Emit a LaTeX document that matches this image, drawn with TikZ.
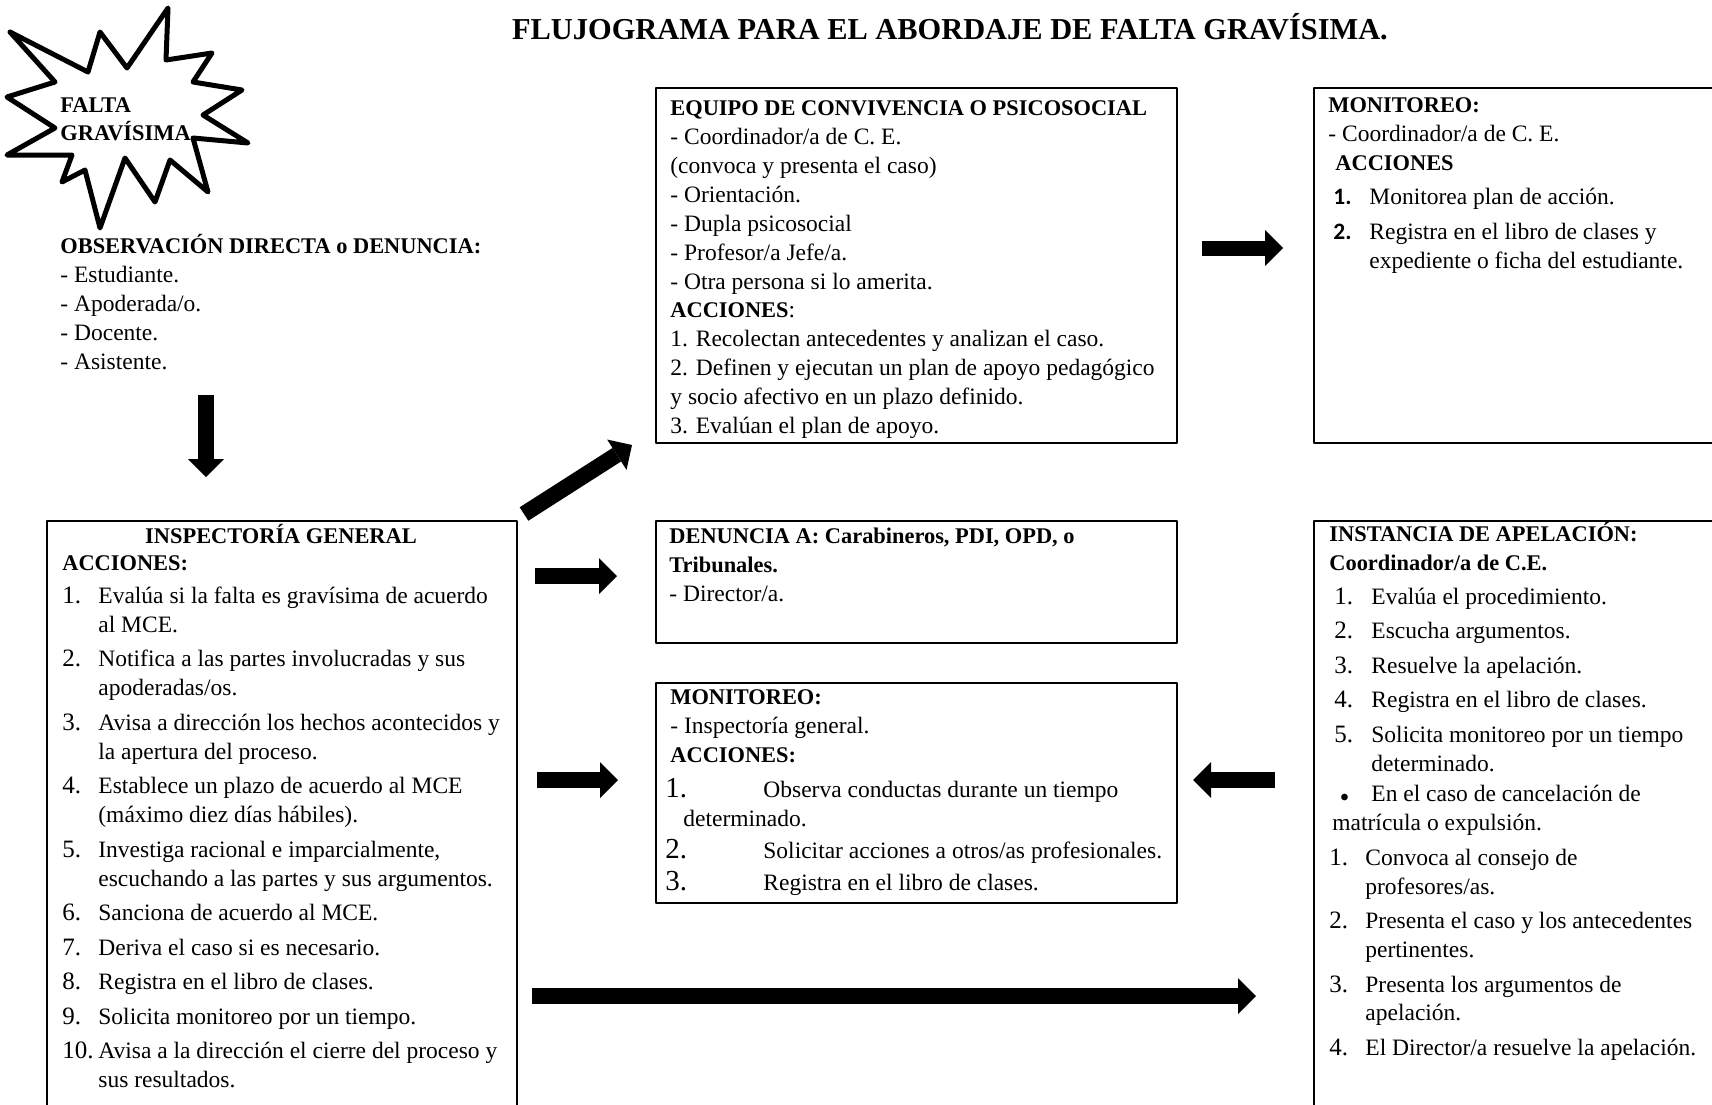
\documentclass[tikz,border=0pt]{standalone}
\usepackage{fontspec}
\setmainfont{Liberation Serif}
\newfontfamily\calib{Carlito}
\usetikzlibrary{positioning}
\usetikzlibrary{arrows.meta}
\newcommand{\numit}[2][18pt]{\makebox[#1][l]{\fontsize{12.5}{14.45}\selectfont #2}}
\newcommand{\enc}[1]{{\fontsize{11.2}{14.45}\selectfont\bfseries #1}}

\begin{document}
\begin{tikzpicture}[x=0.5pt, y=-0.5pt, line join=round,
  caja/.style={draw, line width=1pt, inner sep=0pt, anchor=north west},
  txt/.style={anchor=north west, align=left, inner sep=0pt, font=\fontsize{11.75}{14.45}\selectfont},
  ar/.style={line width=8pt, -{Triangle[length=9pt, width=18pt, line width=0pt]}}]
  \useasboundingbox (0,0) rectangle (1712,1104);
  \clip (0,0) rectangle (1712,1104);

  \node[font=\fontsize{15.2}{17}\selectfont\bfseries, anchor=base] (tit) at (950,39) {FLUJOGRAMA PARA EL ABORDAJE DE FALTA GRAVÍSIMA.};

  % estrella
  \draw[line width=2.5pt] (10,32) -- (88,72) -- (100,32) -- (127,68) -- (168,8) -- (166,60) -- (212,53) -- (193,82) -- (242,90) -- (203,115) -- (248,143) -- (193,138) -- (208,192) -- (170,160) -- (155,202) -- (125,158) -- (100,228) -- (85,170) -- (62,182) -- (72,155) -- (7,155) -- (55,128) -- (7,97) -- (55,82) -- cycle;
  \node[txt, font=\fontsize{11.2}{14}\selectfont\bfseries] (fg) at (60,92) {\strut FALTA\\GRAVÍSIMA};

  \node[txt] (ob) at (60,233) {\strut\enc{OBSERVACIÓN DIRECTA o DENUNCIA:}\\- Estudiante.\\- Apoderada/o.\\- Docente.\\- Asistente.};

  % cajas
  \node[caja, minimum width=235pt, minimum height=300pt] (ig) at (46,520) {};
  \node[caja, minimum width=260.5pt, minimum height=177.5pt] (eq) at (655,87) {};
  \node[caja, minimum width=208.5pt, minimum height=177.5pt] (mt) at (1313,87) {};
  \node[caja, minimum width=260.5pt, minimum height=61pt] (de) at (655,520) {};
  \node[caja, minimum width=260.5pt, minimum height=110pt] (mm) at (655,682) {};
  \node[caja, minimum width=208.5pt, minimum height=300pt] (ia) at (1313,520) {};

  \node[anchor=base] (igt) at (281,543) {\enc{INSPECTORÍA GENERAL}};
  \node[txt] (igl) at (62,550) {\strut\enc{ACCIONES:}\\[2pt]
    \numit{1.}Evalúa si la falta es gravísima de acuerdo\\
    \hspace*{18pt}al MCE.\\[2.8pt]
    \numit{2.}Notifica a las partes involucradas y sus\\
    \hspace*{18pt}apoderadas/os.\\[2.8pt]
    \numit{3.}Avisa a dirección los hechos acontecidos y\\
    \hspace*{18pt}la apertura del proceso.\\[2.8pt]
    \numit{4.}Establece un plazo de acuerdo al MCE\\
    \hspace*{18pt}(máximo diez días hábiles).\\[2.8pt]
    \numit{5.}Investiga racional e imparcialmente,\\
    \hspace*{18pt}escuchando a las partes y sus argumentos.\\[2.8pt]
    \numit{6.}Sanciona de acuerdo al MCE.\\[2.8pt]
    \numit{7.}Deriva el caso si es necesario.\\[2.8pt]
    \numit{8.}Registra en el libro de clases.\\[2.8pt]
    \numit{9.}Solicita monitoreo por un tiempo.\\[2.8pt]
    \numit{10.}Avisa a la dirección el cierre del proceso y\\
    \hspace*{18pt}sus resultados.};

  \node[txt] (eqt) at (670,95) {\strut\enc{EQUIPO DE CONVIVENCIA O PSICOSOCIAL}\\- Coordinador/a de C. E.\\(convoca y presenta el caso)\\- Orientación.\\- Dupla psicosocial\\- Profesor/a Jefe/a.\\- Otra persona si lo amerita.\\\enc{ACCIONES}:\\1. Recolectan antecedentes y analizan el caso.\\2. Definen y ejecutan un plan de apoyo pedagógico\\y socio afectivo en un plazo definido.\\3. Evalúan el plan de apoyo.};

  \node[txt] (mtt) at (1328,92) {\strut\enc{MONITOREO:}\\- Coordinador/a de C. E.\\\hspace*{3.5pt}\enc{ACCIONES}\\[2.5pt]
    \hspace*{2.5pt}\makebox[18pt][l]{\calib\bfseries 1.}Monitorea plan de acción.\\[3pt]
    \hspace*{2.5pt}\makebox[18pt][l]{\calib\bfseries 2.}Registra en el libro de clases y\\
    \hspace*{20.5pt}expediente o ficha del estudiante.};

  \node[txt] (det) at (669,523) {\strut\enc{DENUNCIA A: Carabineros, PDI, OPD, o}\\\enc{Tribunales.}\\- Director/a.};

  \node[txt] (mmt) at (670,684) {\strut\enc{MONITOREO:}\\- Inspectoría general.\\\enc{ACCIONES:}\\[3pt]
    \hspace*{-2.5pt}\makebox[49pt][l]{\fontsize{14.5}{14.45}\selectfont 1.}Observa conductas durante un tiempo\\
    \hspace*{6.5pt}determinado.\\[1.5pt]
    \hspace*{-2.5pt}\makebox[49pt][l]{\fontsize{14.5}{14.45}\selectfont 2.}Solicitar acciones a otros/as profesionales.\\[1.5pt]
    \hspace*{-2.5pt}\makebox[49pt][l]{\fontsize{14.5}{14.45}\selectfont 3.}Registra en el libro de clases.};

  \node[txt] (iat) at (1329,521) {\strut\enc{INSTANCIA DE APELACIÓN:}\\\enc{Coordinador/a de C.E.}\\[2.5pt]
    \hspace*{2.5pt}\numit[18.5pt]{1.}Evalúa el procedimiento.\\[2.8pt]
    \hspace*{2.5pt}\numit[18.5pt]{2.}Escucha argumentos.\\[2.8pt]
    \hspace*{2.5pt}\numit[18.5pt]{3.}Resuelve la apelación.\\[2.8pt]
    \hspace*{2.5pt}\numit[18.5pt]{4.}Registra en el libro de clases.\\[2.8pt]
    \hspace*{2.5pt}\numit[18.5pt]{5.}Solicita monitoreo por un tiempo\\
    \hspace*{21pt}determinado.\\[0.8pt]
    \hspace*{5.5pt}\makebox[15.5pt][l]{$\scriptstyle\bullet$}En el caso de cancelación de\\
    \hspace*{1.5pt}matrícula o expulsión.\\[2.8pt]
    \numit{1.}Convoca al consejo de\\
    \hspace*{18pt}profesores/as.\\[2.8pt]
    \numit{2.}Presenta el caso y los antecedentes\\
    \hspace*{18pt}pertinentes.\\[2.8pt]
    \numit{3.}Presenta los argumentos de\\
    \hspace*{18pt}apelación.\\[2.8pt]
    \numit{4.}El Director/a resuelve la apelación.};

  % flechas
  \coordinate (p1) at (206,395);   \coordinate (p2) at (206,477);
  \coordinate (p3) at (524,514);   \coordinate (p4) at (632,445);
  \coordinate (p5) at (535,576);   \coordinate (p6) at (617,576);
  \coordinate (p7) at (537,780);   \coordinate (p8) at (618,780);
  \coordinate (p9) at (1275,780);  \coordinate (p10) at (1193,780);
  \coordinate (p11) at (532,996);  \coordinate (p12) at (1256,996);
  \coordinate (p13) at (1202,248); \coordinate (p14) at (1283,248);
  \draw[ar] (p1) -- (p2);
  \draw[ar] (p3) -- (p4);
  \draw[ar] (p5) -- (p6);
  \draw[ar] (p7) -- (p8);
  \draw[ar] (p9) -- (p10);
  \draw[ar] (p11) -- (p12);
  \draw[ar, line width=7.5pt] (p13) -- (p14);
\end{tikzpicture}
\end{document}
